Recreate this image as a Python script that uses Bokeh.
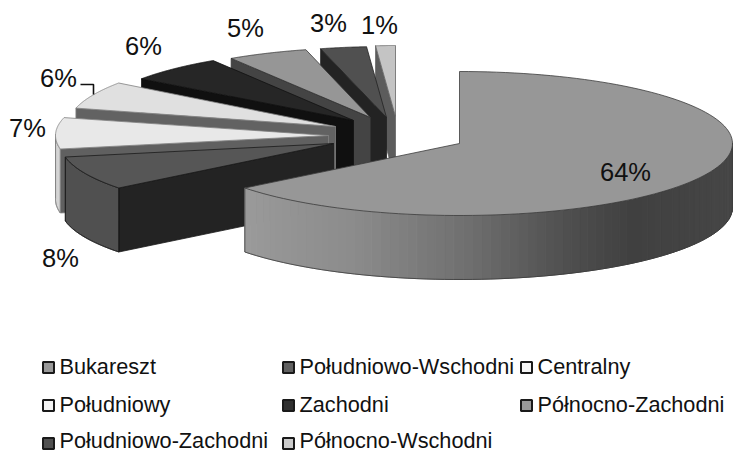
import numpy as np
from bokeh.plotting import figure
from bokeh.models import Range1d, ColumnDataSource
from bokeh.core.properties import value
from bokeh.embed import file_html
from bokeh.resources import INLINE

# data
categories = ["Bukareszt", "Południowo-Wschodni", "Centralny", "Południowy",
              "Zachodni", "Północno-Zachodni", "Południowo-Zachodni", "Północno-Wschodni"]
shares = [64.4, 7.6, 7, 6, 6, 5, 2.8, 1.2]
labels = ["64%", "8%", "7%", "6%", "6%", "5%", "3%", "1%"]

# styles
top_col = ["#979797", "#565656", "#e8e8e8", "#e0e0e0", "#262626", "#969696", "#505050", "#c4c4c4"]
rad_col = ["#707070", "#232323", "#606060", "#626262", "#101010", "#444444", "#232323", "#5c5c5c"]
arc_col = [None, "#505050", "#d4d4d4", "#d4d4d4", "#181818", "#555555", "#333333", "#888888"]
edge_col = ["#3c3c3c", "#1a1a1a", "#808080", "#808080", "#111111", "#333333", "#222222", "#666666"]
leg_col = ["#999999", "#606060", "#f4f4f4", "#f4f4f4", "#303030", "#999999", "#505050", "#cccccc"]

# exploded layout (pixels): apex x, apex y, radius x, radius y
cx = [459, 333, 328, 335, 353, 370, 386, 395]
cy = [143, 143, 135, 126, 120, 117, 117, 116]
rx = [273, 273, 273, 268, 262, 260, 265, 265]
ry = [72, 72, 72, 74, 71, 70, 71, 71]
depth = 64

leg_x = [48, 288, 526, 48, 288, 526, 48, 288]
leg_y = [367, 367, 367, 405, 405, 405, 443, 443]
txt_y = [366, 366, 366, 404, 404, 404, 440, 440]
lab_x = [625, 60, 27, 58, 143, 245, 328, 379]
lab_y = [171, 257, 127, 77, 45, 27, 22, 24]

p = figure(width=735, height=452, output_backend="svg", toolbar_location=None,
           x_range=Range1d(0, 735), y_range=Range1d(452, 0), min_border=0,
           outline_line_color=None, background_fill_color="white")
p.axis.visible = False
p.grid.visible = False

def pt(i, th):
    return cx[i] + rx[i] * np.sin(th), cy[i] - ry[i] * np.cos(th)

def grad(x):
    return int(round(np.interp(x, [245, 350, 463, 563, 630, 735], [0x9a, 0x8c, 0x70, 0x50, 0x40, 0x46])))

cum = np.cumsum([0] + shares) / sum(shares) * 2 * np.pi
for i in range(len(shares) - 1, -1, -1):
    a0, a1 = cum[i], cum[i + 1]
    th = np.linspace(a0, a1, 120)
    xs, ys = pt(i, th)
    # start radial wall
    if i > 0:
        x0, y0 = pt(i, a0)
        p.patch([x0, cx[i], cx[i], x0], [y0, cy[i], cy[i] + depth, y0 + depth],
                fill_color=rad_col[i], line_color=edge_col[i], line_width=0.8)
    # outer wall
    front = np.cos(th) <= 0.02
    if front.any():
        fx, fy = xs[front], ys[front]
        if i == 0:
            n = len(fx)
            for k in range(0, n - 1):
                c = grad((fx[k] + fx[k + 1]) / 2)
                col = "#%02x%02x%02x" % (c, c, c)
                p.patch([fx[k], fx[k + 1], fx[k + 1], fx[k]],
                        [fy[k], fy[k + 1], fy[k + 1] + depth, fy[k] + depth],
                        fill_color=col, line_color=col, line_width=1)
        else:
            p.patch(list(fx) + list(fx[::-1]), list(fy) + list(fy[::-1] + depth),
                    fill_color=arc_col[i], line_color=edge_col[i], line_width=0.8)
        p.line(fx, fy + depth, line_color=edge_col[i], line_width=0.8)
        p.line([fx[0], fx[0]], [fy[0], fy[0] + depth], line_color=edge_col[i], line_width=0.8)
        p.line([fx[-1], fx[-1]], [fy[-1], fy[-1] + depth], line_color=edge_col[i], line_width=0.8)
    # top
    p.patch([cx[i]] + list(xs), [cy[i]] + list(ys), fill_color=top_col[i],
            line_color=edge_col[i], line_width=0.8)

# leader line
p.line([80, 93, 93], [84, 84, 94], line_color="#111111", line_width=1.6)

font = value("Liberation Sans")
p.text(x=lab_x, y=lab_y, text=labels, text_font=font, text_font_size="25.5px",
       text_align="center", text_baseline="middle", text_color="#111111")

leg = ColumnDataSource(dict(x=leg_x, y=leg_y, ty=txt_y, tx=[v + 11 for v in leg_x], name=categories, c=leg_col))
p.scatter("x", "y", source=leg, marker="square", size=11, fill_color="c",
          line_color="#1a1a1a", line_width=2)
p.text("tx", "ty", text="name", source=leg, text_font=font, text_font_size="21.7px",
       text_align="left", text_baseline="middle", text_color="#111111")

open("out.html", "w").write(file_html(p, INLINE))
